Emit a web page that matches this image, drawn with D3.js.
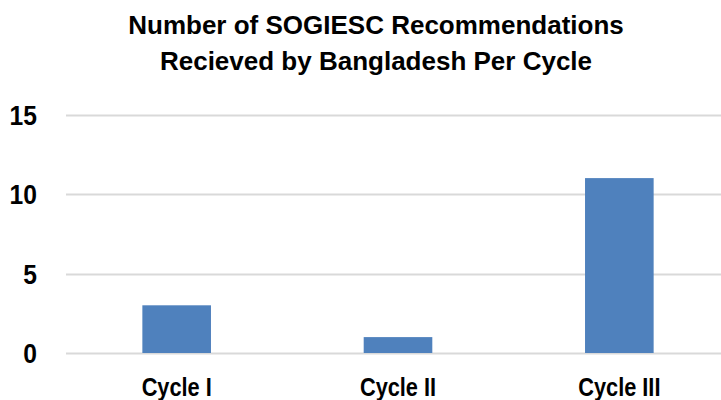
<!DOCTYPE html>
<html>
<head>
<meta charset="utf-8">
<script src="https://cdn.jsdelivr.net/npm/d3@7"></script>
<style>
  body { margin: 0; background: #fff; }
  text { font-family: "Liberation Sans Narrow", "Arial Narrow", "Liberation Sans", Arial, sans-serif; font-weight: bold; fill: #000; }
</style>
</head>
<body>
<script>
// data
var cycles = ["Cycle I", "Cycle II", "Cycle III"];
var recommendations = [3, 1, 11];
var yTicks = [0, 5, 10, 15];
var titleLines = ["Number of SOGIESC Recommendations", "Recieved by Bangladesh Per Cycle"];

var Width = 721, Height = 400;

var svg = d3.select("body").append("svg")
	.attr("width", Width)
	.attr("height", Height);

var x = d3.scaleBand()
	.domain(cycles)
	.range([66, 730])
	.paddingInner(0.69)
	.paddingOuter(0.345);

var y = d3.scaleLinear()
	.domain([0, 15])
	.range([353, 114.5]);

// gridlines
svg.append("g")
	.selectAll("line")
	.data(yTicks)
	.join("line")
	.attr("x1", 66)
	.attr("x2", Width)
	.attr("y1", d => Math.round(y(d)) + 0.5)
	.attr("y2", d => Math.round(y(d)) + 0.5)
	.attr("stroke", "#d9d9d9")
	.attr("stroke-width", 2);

// bars
svg.append("g")
	.selectAll("rect")
	.data(recommendations)
	.join("rect")
	.attr("x", (d, i) => x(cycles[i]))
	.attr("width", x.bandwidth())
	.attr("y", d => y(d))
	.attr("height", d => y(0) - y(d))
	.attr("fill", "#4f81bd");

// y axis labels (slightly condensed like the original narrow font)
var yAxis = d3.axisLeft(y).tickValues(yTicks).tickSize(0).tickPadding(0);
svg.append("g")
	.attr("transform", "translate(37,0)")
	.call(yAxis)
	.call(g => g.select(".domain").remove())
	.selectAll("text")
	.attr("font-size", 28)
	.attr("font-family", null)
	.attr("dy", "0.34em")
	.attr("transform", "scale(0.88,1)");

// x axis labels
var xAxis = d3.axisBottom(x).tickSize(0).tickPadding(0);
svg.append("g")
	.attr("transform", "translate(0,378)")
	.call(xAxis)
	.call(g => g.select(".domain").remove())
	.selectAll("text")
	.attr("font-size", 25)
	.attr("font-family", null)
	.attr("dy", "0.71em")
	.attr("transform", "scale(0.87,1)");

// title
svg.append("g")
	.selectAll("text")
	.data(titleLines)
	.join("text")
	.attr("x", 376)
	.attr("y", (d, i) => 34 + i * 36)
	.attr("text-anchor", "middle")
	.attr("font-size", 26)
	.text(d => d);
</script>
</body>
</html>
